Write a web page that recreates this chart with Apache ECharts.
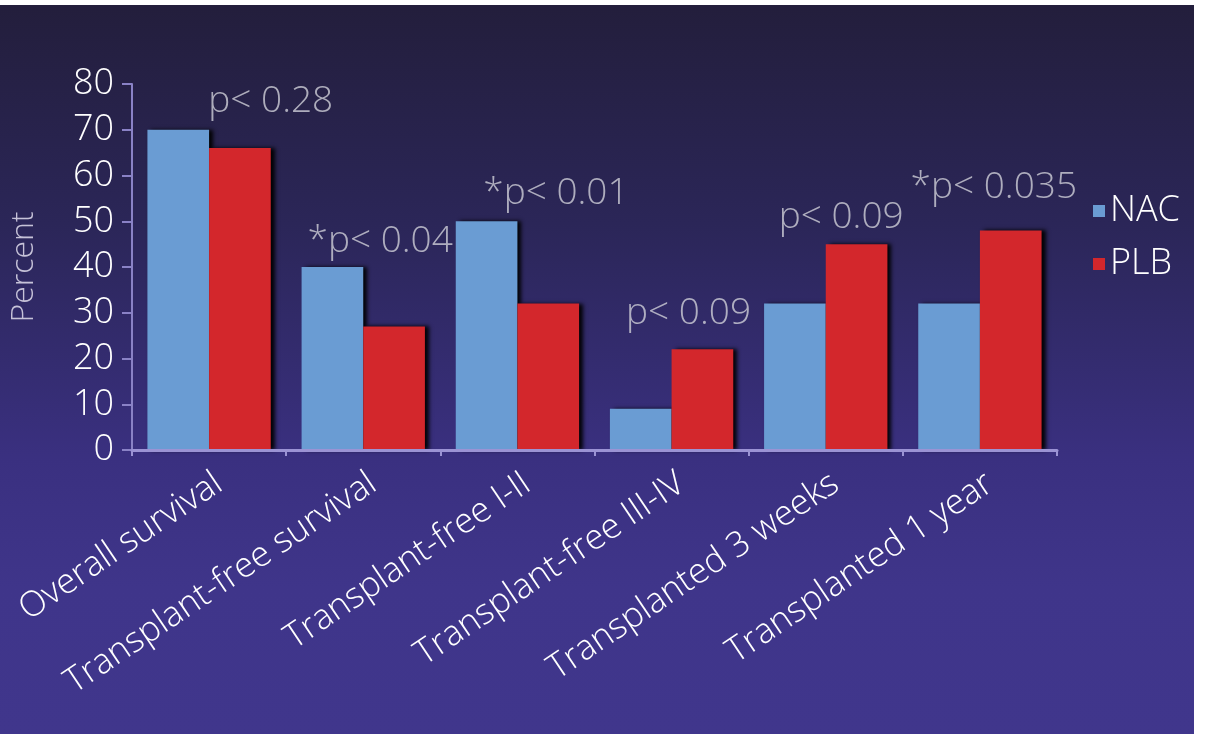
<!DOCTYPE html>
<html>
<head>
<meta charset="utf-8">
<script src="https://cdn.jsdelivr.net/npm/echarts@6/dist/echarts.min.js"></script>
<style>
  html, body { margin: 0; padding: 0; background: #fff; }
  #chart { position: absolute; left: 0; top: 5px; width: 1194px; height: 729px; }
</style>
</head>
<body>
<div id="chart"></div>
<script>
var categories = ['Overall survival', 'Transplant-free survival', 'Transplant-free I-II',
  'Transplant-free III-IV', 'Transplanted 3 weeks', 'Transplanted 1 year'];
var nacValues = [70, 40, 50, 9, 32, 32];
var plbValues = [66, 27, 32, 22, 45, 48];
var yTicks = [0, 10, 20, 30, 40, 50, 60, 70, 80];

// p-value notes, placed in category units (x) and percent (y)
var pLabels = ['p< 0.28', '*p< 0.04', '*p< 0.01', 'p< 0.09', 'p< 0.09', '*p< 0.035'];
var pLabelX = [0.90, 1.61, 2.75, 3.61, 4.60, 5.59];
var pLabelY = [76.1, 45.5, 56.0, 29.9, 50.8, 57.3];

(function() {
  var font = '"Open Sans", "Noto Sans", sans-serif';
  var axisCol = '#9b93d4';
  var chart = echarts.init(document.getElementById('chart'));

  var shadow = { shadowColor: 'rgba(0,0,0,0.95)', shadowBlur: 4, shadowOffsetX: 4, shadowOffsetY: 0 };

  chart.setOption({
    animation: false,
    backgroundColor: {
      type: 'linear', x: 0, y: 0, x2: 0, y2: 1,
      colorStops: [
        { offset: 0, color: '#231e3c' },
        { offset: 0.3, color: '#2b2658' },
        { offset: 0.62, color: '#3a3080' },
        { offset: 0.8, color: '#3f358a' },
        { offset: 1, color: '#40368c' }
      ]
    },
    textStyle: { fontFamily: font, fontWeight: 300 },
    grid: { left: 128, right: 137, top: 79, bottom: 284 },
    legend: {
      orient: 'vertical',
      left: 1088, top: 183,
      icon: 'rect', itemWidth: 12, itemHeight: 12, itemGap: 17,
      textStyle: { color: '#ffffff', fontSize: 36, fontFamily: font, fontWeight: 300 },
      data: ['NAC', 'PLB']
    },
    xAxis: [{
      type: 'category',
      data: categories,
      z: 3,
      axisLine: { lineStyle: { color: axisCol, width: 3 } },
      axisTick: { show: true, length: 6, lineStyle: { color: axisCol, width: 2 } },
      axisLabel: {
        rotate: 34, interval: 0, margin: 16,
        align: 'right', verticalAlign: 'top',
        color: '#ffffff', fontSize: 35, fontFamily: font, fontWeight: 300
      }
    }, {
      type: 'value', min: 0, max: categories.length, show: false
    }],
    yAxis: {
      type: 'value', min: 0, max: 80, interval: 10,
      name: 'Percent', nameLocation: 'middle', nameGap: 92,
      nameTextStyle: { color: '#c6c2d8', fontSize: 32, fontFamily: font, fontWeight: 300 },
      axisLine: { show: true, lineStyle: { color: '#8a82c6', width: 2 } },
      axisTick: { show: true, length: 10, lineStyle: { color: '#8a82c6', width: 2 } },
      splitLine: { show: false },
      axisLabel: {
        margin: 18, color: '#ffffff', fontSize: 36, fontFamily: font, fontWeight: 300,
        formatter: function(v) { return yTicks.indexOf(v) >= 0 ? String(v) : ''; }
      }
    },
    series: [{
      name: 'NAC', type: 'bar', data: nacValues,
      barGap: '0%', barCategoryGap: '20%',
      itemStyle: Object.assign({ color: '#6a9cd3' }, shadow)
    }, {
      name: 'PLB', type: 'bar', data: plbValues,
      barGap: '0%', barCategoryGap: '20%',
      itemStyle: Object.assign({ color: '#d3272c' }, shadow)
    }, {
      type: 'scatter', xAxisIndex: 1, silent: true,
      symbolSize: 1, itemStyle: { color: 'rgba(0,0,0,0)' },
      data: pLabelX.map(function(x, i) { return [x, pLabelY[i]]; }),
      label: {
        show: true, position: 'inside',
        color: '#cfcfd8', fontSize: 37, fontFamily: font, fontWeight: 300,
        formatter: function(p) { return pLabels[p.dataIndex]; }
      }
    }]
  });
  window.addEventListener('resize', function() { chart.resize(); });
})();
</script>
</body>
</html>
